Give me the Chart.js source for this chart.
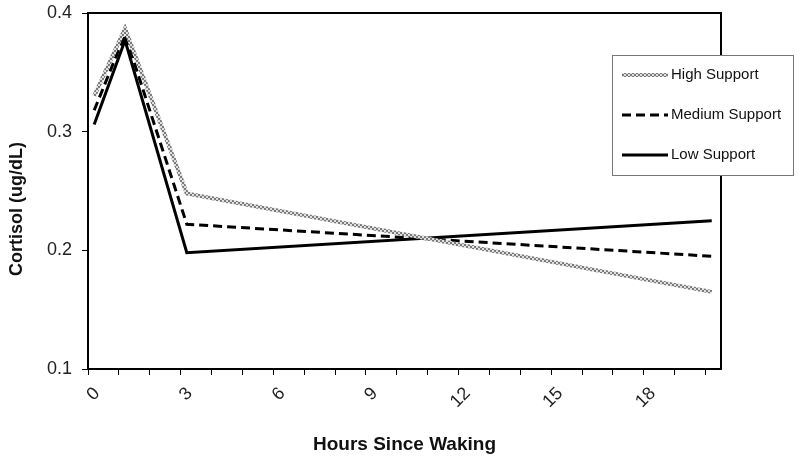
<!DOCTYPE html>
<html>
<head>
<meta charset="utf-8">
<script src="https://cdn.jsdelivr.net/npm/chart.js@4.4.0/dist/chart.umd.min.js"></script>
<style>
  html, body { margin: 0; padding: 0; background: #fff; }
</style>
</head>
<body>
<canvas id="myChart" width="800" height="462"></canvas>
<script>
// data
const hours = [0.2, 1.2, 3.2, 20.2];
const highSupport = [0.330, 0.387, 0.248, 0.165];
const mediumSupport = [0.318, 0.382, 0.222, 0.195];
const lowSupport = [0.306, 0.377, 0.198, 0.225];
const seriesNames = ['High Support', 'Medium Support', 'Low Support'];
const xLabelTicks = [0, 3, 6, 9, 12, 15, 18];
const yTicks = [0.1, 0.2, 0.3, 0.4];
const yTitle = 'Cortisol (ug/dL)';

const FONT = "'Liberation Sans', Arial, sans-serif";

const canvas = document.getElementById('myChart');
const ctx = canvas.getContext('2d');

// grey hatched texture for the "high" line
const pc = document.createElement('canvas');
pc.width = 4; pc.height = 4;
const pctx = pc.getContext('2d');
pctx.fillStyle = '#e0e0e0';
pctx.fillRect(0, 0, 4, 4);
pctx.fillStyle = '#7a7a7a';
pctx.fillRect(0, 0, 2, 2);
pctx.fillRect(2, 2, 2, 2);
const hatch = ctx.createPattern(pc, 'repeat');

function points(vals) {
  return hours.map((h, i) => ({ x: h, y: vals[i] }));
}

// frame round the plot, y title, legend box drawn over the plot
const framePlugin = {
  id: 'frame',
  afterDraw(chart) {
    const a = chart.chartArea;
    const c = chart.ctx;
    c.save();
    c.strokeStyle = '#000';
    c.lineWidth = 2;
    c.strokeRect(a.left, a.top, a.right - a.left, a.bottom - a.top);

    // y axis title (sits a bit below the axis centre in the original)
    c.save();
    c.translate(17, 209);
    c.rotate(-Math.PI / 2);
    c.fillStyle = '#111';
    c.font = 'bold 18px ' + FONT;
    c.textAlign = 'center';
    c.textBaseline = 'middle';
    c.fillText(yTitle, 0, 0);
    c.restore();

    // legend
    const bx = 612, by = 55, bw = 181, bh = 120;
    c.fillStyle = '#fff';
    c.fillRect(bx, by, bw, bh);
    c.strokeStyle = '#777';
    c.lineWidth = 1;
    c.strokeRect(bx + 0.5, by + 0.5, bw, bh);
    const rows = [75, 115, 155];
    chart.data.datasets.forEach((ds, i) => {
      const y = rows[i];
      c.beginPath();
      c.strokeStyle = ds.borderColor;
      c.lineWidth = ds.borderWidth;
      c.setLineDash(ds.borderDash || []);
      c.moveTo(622, y);
      c.lineTo(668, y);
      c.stroke();
      c.setLineDash([]);
      c.fillStyle = '#111';
      c.font = '15px ' + FONT;
      c.textBaseline = 'middle';
      c.textAlign = 'left';
      c.fillText(ds.label, 671, y);
    });
    c.restore();
  }
};

let myChart = new Chart(ctx, {
  type: 'line',
  data: {
    datasets: [
      {
        label: seriesNames[0],
        data: points(highSupport),
        borderColor: hatch,
        borderWidth: 4,
        pointRadius: 0,
        fill: false,
        tension: 0
      },
      {
        label: seriesNames[1],
        data: points(mediumSupport),
        borderColor: '#000',
        borderWidth: 3,
        borderDash: [9, 5],
        pointRadius: 0,
        fill: false,
        tension: 0
      },
      {
        label: seriesNames[2],
        data: points(lowSupport),
        borderColor: '#000',
        borderWidth: 3,
        pointRadius: 0,
        fill: false,
        tension: 0
      }
    ]
  },
  options: {
    responsive: false,
    animation: false,
    layout: { padding: { top: 13, right: 79, left: 0, bottom: 0 } },
    plugins: {
      legend: { display: false },
      tooltip: { enabled: false }
    },
    scales: {
      x: {
        type: 'linear',
        min: 0,
        max: 20.5,
        afterBuildTicks: (s) => {
          const t = [];
          for (let i = 0; i <= 20; i++) t.push({ value: i });
          s.ticks = t;
        },
        afterFit: (s) => { s.height = 93; s.paddingRight = 0; },
        border: { display: false },
        grid: { drawOnChartArea: false, drawTicks: true, tickLength: 6, color: '#000', lineWidth: 1 },
        ticks: {
          autoSkip: false,
          minRotation: 45,
          maxRotation: 45,
          labelOffset: 9,
          padding: 8,
          color: '#222',
          font: { size: 18, family: FONT },
          callback: (v) => xLabelTicks.includes(v) ? String(v) : ''
        },
        title: {
          display: true,
          text: 'Hours Since Waking',
          color: '#111',
          font: { size: 19, weight: 'bold', family: FONT },
          padding: { top: 0, bottom: 6 }
        }
      },
      y: {
        min: 0.1,
        max: 0.4,
        afterBuildTicks: (s) => { s.ticks = yTicks.map(v => ({ value: v })); },
        afterFit: (s) => { s.width = 88; s.paddingTop = 0; s.paddingBottom = 0; },
        border: { display: false },
        grid: { drawOnChartArea: false, drawTicks: true, tickLength: 6, color: '#000', lineWidth: 1 },
        ticks: {
          padding: 10,
          color: '#222',
          font: { size: 18, family: FONT },
          callback: (v) => v.toFixed(1)
        }
      }
    }
  },
  plugins: [framePlugin]
});
</script>
</body>
</html>
